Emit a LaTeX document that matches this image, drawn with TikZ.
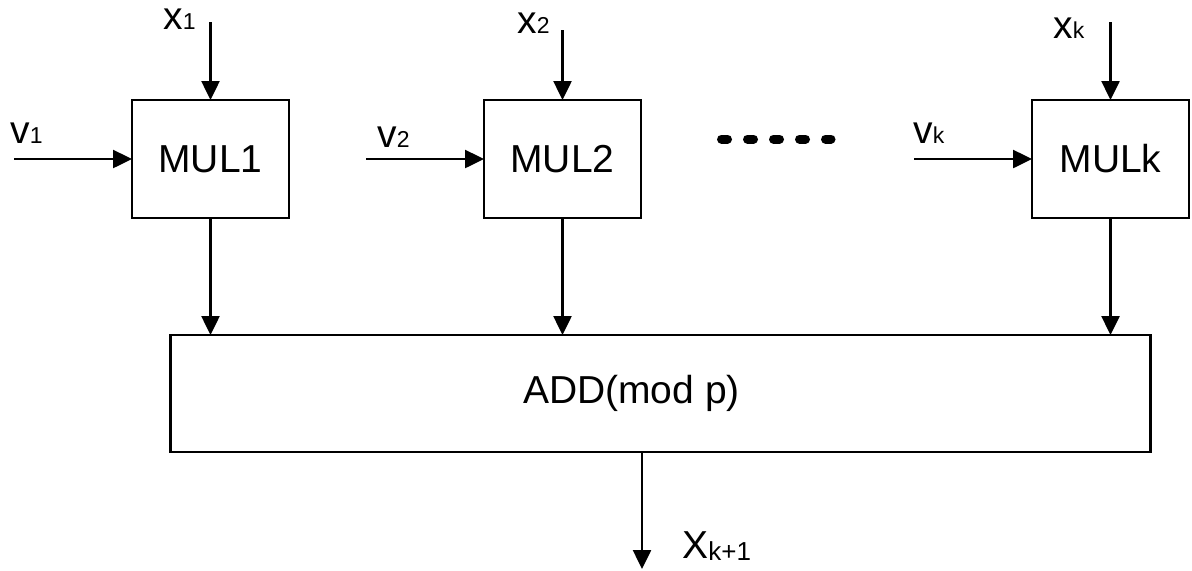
\documentclass[tikz,border=0pt]{standalone}
\usepackage{fontspec}
\setmainfont{Liberation Sans}
\usetikzlibrary{positioning,arrows.meta}
\newcommand{\subtxt}[1]{{\fontsize{11.5}{12}\selectfont #1}}

\begin{document}
\begin{tikzpicture}[
        x=0.5pt, y=-0.5pt,
        box/.style={rectangle, draw, line width=1.35pt, minimum width=78.5pt, minimum height=59pt, inner sep=0pt, outer sep=0pt, font=\fontsize{19.5}{23}\selectfont},
        addbox/.style={box, minimum width=490pt, minimum height=58.5pt},
        lbl/.style={inner sep=0pt, anchor=base west, font=\fontsize{19.5}{23}\selectfont},
        arrow/.style={-{Triangle[length=9.5pt,width=9pt]}, line width=1.25pt}
    ]
        \useasboundingbox (0,0) rectangle (1192,570);

        \node[box] (mul1) at (210.5,159) {MUL1};
        \node[box, right=97.5pt of mul1] (mul2) {MUL2};
        \node[box, right=195.5pt of mul2] (mulk) {MULk};
        \node[addbox, below=58.5pt of mul2, xshift=49pt] (add) {ADD(mod p)\kern29pt};

        \coordinate[above=39pt of mul1] (x1in);
        \coordinate[above=35pt of mul2] (x2in);
        \coordinate[above=39pt of mulk] (xkin);
        \coordinate[left=59pt of mul1] (v1in);
        \coordinate[left=59pt of mul2] (v2in);
        \coordinate[left=59pt of mulk] (vkin);
        \coordinate (out) at (642,569);

        \node[lbl] (x1lab) at (163,29) {x\subtxt{1}};
        \node[lbl] (x2lab) at (517,33) {x\subtxt{2}};
        \node[lbl] (xklab) at (1053,38) {x\subtxt{k}};
        \node[lbl] (v1lab) at (10,143) {v\subtxt{1}};
        \node[lbl] (v2lab) at (377,147) {v\subtxt{2}};
        \node[lbl] (vklab) at (913,143) {v\subtxt{k}};
        \node[lbl] (outlab) at (682,558) {X\raisebox{-1pt}{\fontsize{13}{14}\selectfont k+1}};

        % dots between MUL2 and MULk
        \draw[line width=4.5pt, line cap=round, dash pattern=on 3pt off 10pt] (721.5,139) -- (831,139);

        \draw[arrow] (x1in) -- (mul1);
        \draw[arrow] (x2in) -- (mul2);
        \draw[arrow] (xkin) -- (mulk);
        \draw[arrow] (v1in) -- (mul1);
        \draw[arrow] (v2in) -- (mul2);
        \draw[arrow] (vkin) -- (mulk);
        \draw[arrow] (mul1) -- (mul1 |- add.north);
        \draw[arrow] (mul2) -- (mul2 |- add.north);
        \draw[arrow] (mulk) -- (mulk |- add.north);
        \draw[arrow] (add.south -| out) -- (out);
    \end{tikzpicture}
\end{document}
